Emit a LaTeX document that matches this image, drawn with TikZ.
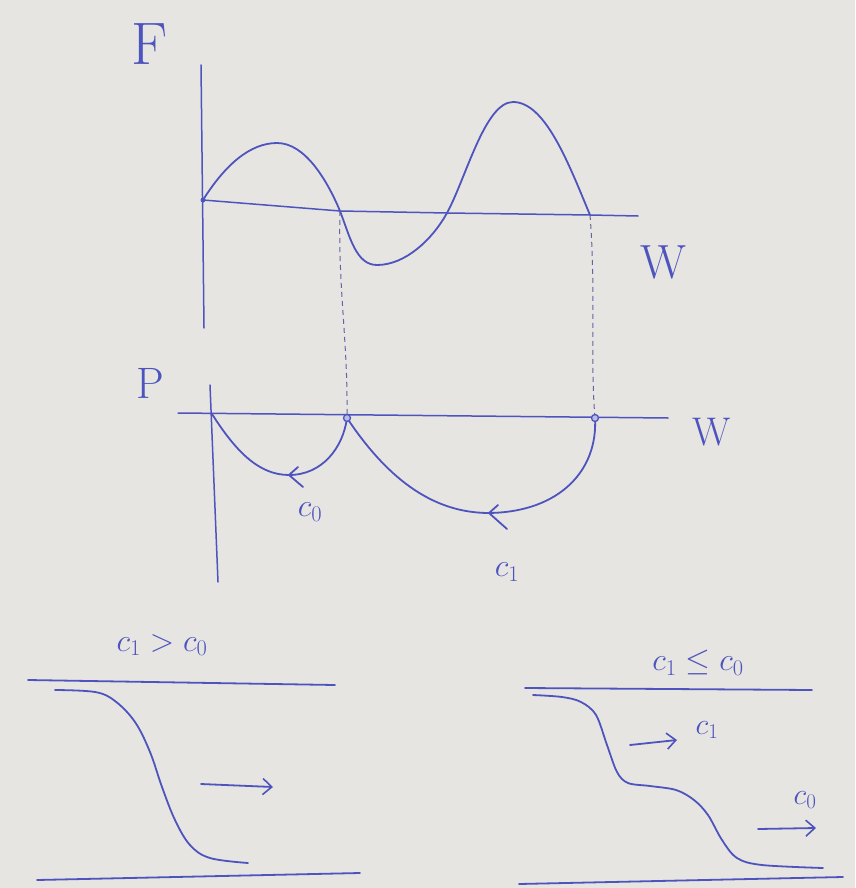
\RequirePackage{fix-cm}
\documentclass[tikz,border=0pt]{standalone}
\usetikzlibrary{arrows.meta}
\definecolor{paper}{RGB}{231,229,225}
\definecolor{ink}{RGB}{78,84,190}
\begin{document}
\begin{tikzpicture}[x=1pt,y=-1pt,
  inkline/.style={draw=ink,line width=1.8pt,line cap=round,line join=round},
  axisline/.style={draw=ink,line width=1.5pt,line cap=round},
  guide/.style={draw=ink!60!gray,line width=1pt,dashed,dash pattern=on 5pt off 4pt},
  barb/.style={-{Straight Barb[length=9pt,width=16pt,line width=1.6pt]}},
  bigtxt/.style={text=ink,inner sep=0pt,font=\fontsize{60}{60}\selectfont},
  midtxt/.style={text=ink,inner sep=0pt,font=\fontsize{44}{44}\selectfont},
  lbl/.style={text=ink,inner sep=0pt,font=\fontsize{32}{32}\selectfont},
  smalllbl/.style={text=ink,inner sep=0pt,font=\fontsize{30}{30}\selectfont}]
\fill[paper] (0,0) rectangle (855,888);
\useasboundingbox (0,0) rectangle (855,888);

% ---------- top graph: F vs W ----------
\node[bigtxt] (F) at (150,44) {F};
\coordinate (Ftop) at (201,65);
\coordinate (Fbot) at (204,328);
\draw[axisline] (Ftop) -- (Fbot);
\coordinate (O1) at (203,200);
\coordinate (Z1) at (340,211);
\coordinate (Z2) at (447,213);
\coordinate (Z3) at (590,215);
\coordinate (Wend) at (638,216);
\draw[axisline] (O1) -- (Z1) -- (Z2) -- (Z3) -- (Wend);
\draw[inkline] (O1) .. controls (225,165) and (250,143) .. (277,143)
  .. controls (305,143) and (327,180) .. (Z1)
  .. controls (350,237) and (356,265) .. (377,265)
  .. controls (405,265) and (432,240) .. (Z2)
  .. controls (466,178) and (485,102) .. (513,102)
  .. controls (545,102) and (568,162) .. (Z3);
\node[midtxt,font=\fontsize{48}{48}\selectfont] (W1) at (663,262) {W};
\fill[ink] (O1) circle (2.5pt);

% dashed projections
\coordinate (Q1) at (347,418);
\coordinate (Q2) at (595,418);
\draw[guide] (Z1) .. controls (338,290) and (348,340) .. (Q1);
\draw[guide] (Z3) .. controls (596,290) and (590,360) .. (Q2);

% ---------- middle graph: P vs W ----------
\node[midtxt] (P) at (150,383) {P};
\coordinate (Ptop) at (210,385);
\coordinate (Pbot) at (218,582);
\draw[axisline] (Ptop) -- (Pbot);
\coordinate (Pleft) at (178,413);
\coordinate (Pright) at (668,418);
\draw[axisline] (Pleft) -- (Pright);
\node[midtxt,font=\fontsize{40}{40}\selectfont] (W2) at (712,432) {W};
\coordinate (O2) at (212,414);
% c0 arc
\coordinate (B0) at (289,475);
\draw[inkline] (O2) .. controls (235,450) and (258,475) .. (B0) .. controls (322,475) and (343,448) .. (Q1);
\draw[inkline] (298,467) -- (B0) -- (303,487);
% c1 arc
\coordinate (B1) at (489,513);
\draw[inkline] (Q1) .. controls (385,475) and (430,513) .. (B1) .. controls (560,512) and (598,470) .. (Q2);
\draw[inkline] (498,505) -- (B1) -- (507,529);
\draw[ink,line width=1.3pt,fill=ink!40] (Q1) circle (3.5pt);
\draw[ink,line width=1.3pt,fill=ink!40] (Q2) circle (3.5pt);
\node[lbl] (c0) at (310,512) {$c_{0}$};
\node[lbl] (c1) at (507,572) {$c_1$};

% ---------- bottom left: c1 > c0 ----------
\node[lbl] (condA) at (162,645) {$c_1 > c_0$};
\coordinate (LT1) at (28,680);
\coordinate (LT2) at (335,685);
\draw[inkline] (LT1) -- (LT2);
\coordinate (LB1) at (37,880);
\coordinate (LB2) at (360,873);
\draw[inkline] (LB1) -- (LB2);
\draw[inkline] plot[smooth,tension=0.6] coordinates {(55,690) (95,692) (115,701) (135,722) (150,752) (162,787) (175,820) (190,845) (210,858) (248,863)};
\coordinate (A1s) at (201,784);
\coordinate (A1e) at (273,787);
\draw[inkline,barb] (A1s) -- (A1e);

% ---------- bottom right: c1 <= c0 ----------
\node[lbl] (condB) at (698,663) {$c_1 \leq c_0$};
\coordinate (RT1) at (525,688);
\coordinate (RT2) at (812,690);
\draw[inkline] (RT1) -- (RT2);
\coordinate (RB1) at (519,884);
\coordinate (RB2) at (843,877);
\draw[inkline] (RB1) -- (RB2);
\draw[inkline] plot[smooth,tension=0.55] coordinates {(533,695) (562,697) (581,702) (596,715) (607,745) (617,772) (628,783) (650,786) (676,790) (694,800) (708,815) (722,840) (737,858) (762,865) (823,868)};
\coordinate (A2s) at (630,745);
\coordinate (A2e) at (677,740);
\draw[inkline,barb] (A2s) -- (A2e);
\node[smalllbl] (c1r) at (707,730) {$c_1$};
\coordinate (A3s) at (758,829);
\coordinate (A3e) at (816,828);
\draw[inkline,barb] (A3s) -- (A3e);
\node[smalllbl] (c0r) at (805,800) {$c_0$};
\end{tikzpicture}
\end{document}
